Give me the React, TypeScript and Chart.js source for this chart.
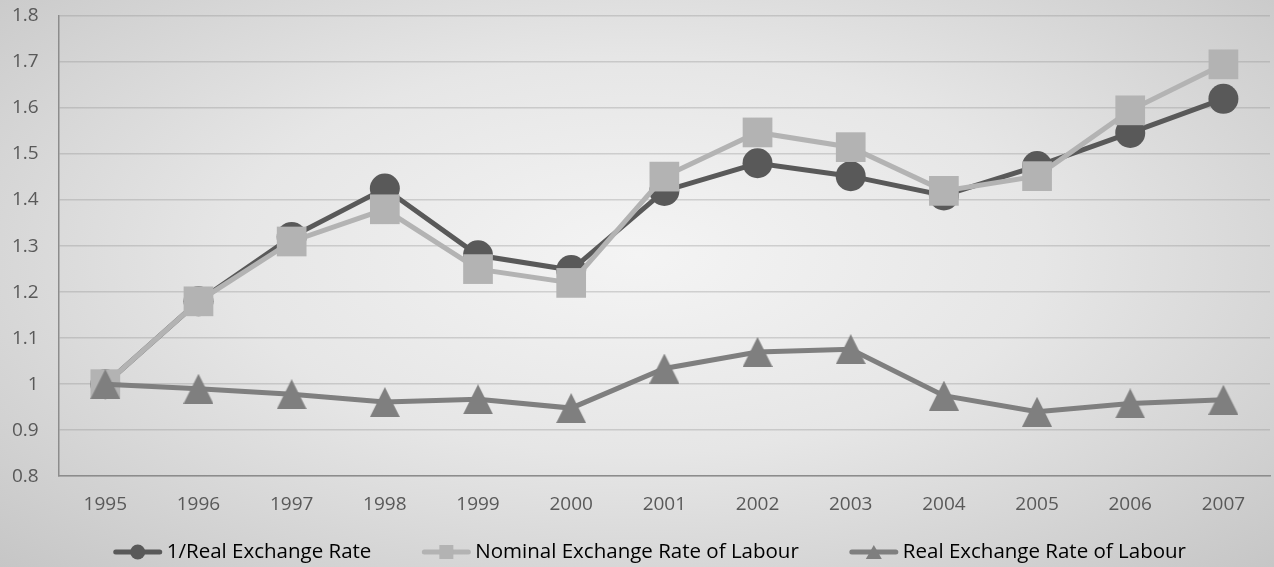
import React, { useEffect, useRef } from "react";
import { Chart, registerables } from "chart.js";

Chart.register(...registerables);

const years = ["1995", "1996", "1997", "1998", "1999", "2000", "2001", "2002", "2003", "2004", "2005", "2006", "2007"];
const invRealRate = [1.0, 1.18, 1.32, 1.425, 1.28, 1.248, 1.42, 1.48, 1.452, 1.41, 1.474, 1.546, 1.62];
const nominalLabour = [1.0, 1.18, 1.31, 1.38, 1.25, 1.22, 1.451, 1.547, 1.515, 1.42, 1.452, 1.595, 1.695];
const realLabour = [1.0, 0.99, 0.978, 0.961, 0.967, 0.948, 1.034, 1.07, 1.076, 0.975, 0.94, 0.958, 0.966];
const seriesNames = ["1/Real Exchange Rate", "Nominal Exchange Rate of Labour", "Real Exchange Rate of Labour"];

const FONT = "'Open Sans', 'Liberation Sans', sans-serif";
const colors = ["#595959", "#b3b3b3", "#7f7f7f"];
const shapes = ["circle", "rect", "triangle"];
const radii = [15, 21, 15];

function triangleImage(color: string, size: number): HTMLCanvasElement {
  const c = document.createElement("canvas");
  c.width = size;
  c.height = size;
  const ctx = c.getContext("2d")!;
  ctx.fillStyle = color;
  ctx.beginPath();
  ctx.moveTo(size / 2, 0);
  ctx.lineTo(size, size);
  ctx.lineTo(0, size);
  ctx.closePath();
  ctx.fill();
  return c;
}

function drawIcon(ctx: CanvasRenderingContext2D, x: number, cy: number, color: string, shape: string) {
  ctx.save();
  ctx.strokeStyle = color;
  ctx.fillStyle = color;
  ctx.lineWidth = 5;
  ctx.lineCap = "round";
  ctx.beginPath();
  ctx.moveTo(x + 3, cy);
  ctx.lineTo(x + 47, cy);
  ctx.stroke();
  ctx.beginPath();
  const cx = x + 25;
  if (shape === "circle") {
    ctx.arc(cx, cy, 7.5, 0, Math.PI * 2);
  } else if (shape === "rect") {
    ctx.rect(cx - 7, cy - 7, 14, 14);
  } else {
    ctx.moveTo(cx, cy - 7);
    ctx.lineTo(cx + 8, cy + 7);
    ctx.lineTo(cx - 8, cy + 7);
    ctx.closePath();
  }
  ctx.fill();
  ctx.restore();
}

const legendPlugin = {
  id: "lineLegend",
  afterDraw(chart: any) {
    const ctx: CanvasRenderingContext2D = chart.ctx;
    ctx.save();
    ctx.font = `20.5px ${FONT}`;
    const iconW = 50;
    const gap = 4;
    const itemGap = 50;
    const widths = seriesNames.map((s) => ctx.measureText(s).width);
    const total = widths.reduce((a, b) => a + b, 0) + seriesNames.length * (iconW + gap) + itemGap * (seriesNames.length - 1);
    let x = (chart.chartArea.left + chart.chartArea.right) / 2 - total / 2 - 15;
    const cy = chart.height - 15;
    seriesNames.forEach((s, i) => {
      drawIcon(ctx, x, cy, colors[i], shapes[i]);
      x += iconW + gap;
      ctx.fillStyle = "#000000";
      ctx.textBaseline = "middle";
      ctx.textAlign = "left";
      ctx.fillText(s, x, cy);
      x += widths[i] + itemGap;
    });
    ctx.restore();
  },
};

export default function App() {
  const ref = useRef<HTMLCanvasElement | null>(null);
  useEffect(() => {
    if (!ref.current) return;
    const values = [invRealRate, nominalLabour, realLabour];
    const tri = triangleImage(colors[2], 30);
    const chart = new Chart(ref.current, {
      type: "line",
      data: {
        labels: years,
        datasets: values.map((v, i) => ({
          label: seriesNames[i],
          data: v,
          borderColor: colors[i],
          backgroundColor: colors[i],
          pointBackgroundColor: colors[i],
          pointBorderColor: colors[i],
          borderWidth: 5,
          pointStyle: (i === 2 ? tri : shapes[i]) as any,
          pointRadius: radii[i],
          pointHoverRadius: radii[i],
          pointBorderWidth: 0,
          tension: 0,
          clip: false as any,
          order: 3 - i,
        })),
      },
      options: {
        animation: false,
        responsive: false,
        maintainAspectRatio: false,
        layout: { autoPadding: false, padding: { left: -8, right: 4, top: 0, bottom: 34 } },
        scales: {
          x: {
            offset: true,
            grid: { display: false, drawTicks: false },
            border: { display: true, color: "#8c8c8c", width: 1.5 },
            ticks: { color: "#595959", font: { family: FONT, size: 19 }, padding: 17 },
          },
          y: {
            min: 0.8,
            max: 1.8,
            afterFit: (scale: any) => {
              scale.paddingTop = 16;
            },
            grid: { color: "rgba(140,140,140,0.33)", lineWidth: 1.5, drawTicks: false },
            border: { display: true, color: "#8c8c8c", width: 1.5 },
            ticks: {
              stepSize: 0.1,
              color: "#595959",
              font: { family: FONT, size: 19 },
              padding: 20,
              callback: (v: any) => String(Math.round(Number(v) * 10) / 10),
            },
          },
        },
        plugins: {
          tooltip: { enabled: false },
          legend: { display: false },
        },
      },
      plugins: [legendPlugin],
    });
    return () => chart.destroy();
  }, []);
  return (
    <div
      style={{
        position: "fixed",
        left: 0,
        top: 0,
        width: 1274,
        height: 567,
        background: "radial-gradient(ellipse at 50% 45%, #f4f4f4 0%, #e6e6e6 45%, #c6c6c6 100%)",
      }}
    >
      <canvas ref={ref} width={1274} height={567} style={{ display: "block" }} />
    </div>
  );
}
